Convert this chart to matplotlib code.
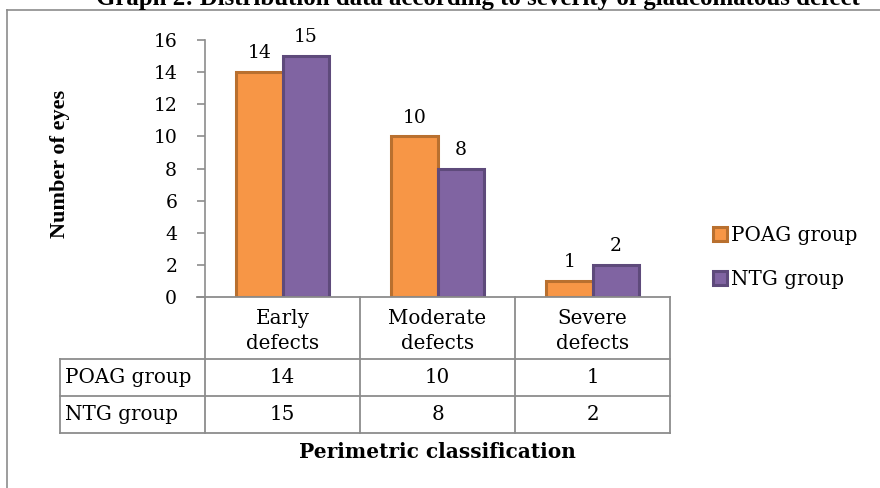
import matplotlib
matplotlib.use("Agg")
import matplotlib.pyplot as plt
from matplotlib.patches import Patch
from matplotlib.lines import Line2D

title = "Graph 2: Distribution data according to severity of glaucomatous defect"
categories = ["Early\ndefects", "Moderate\ndefects", "Severe\ndefects"]
series_names = ["POAG group", "NTG group"]
poag = [14, 10, 1]
ntg = [15, 8, 2]
yticks = [0, 2, 4, 6, 8, 10, 12, 14, 16]
ylabel = "Number of eyes"
xlabel = "Perimetric classification"

W, H = 880, 488
fig = plt.figure(figsize=(W / 100, H / 100), dpi=100)

def fx(px):
    return px / W

def fy(py):
    return 1 - py / H

serif = ["DejaVu Serif"]
times = ["Liberation Serif", "DejaVu Serif"]
grid_col = "#8c8c8c"
fills = ["#F79646", "#8064A2"]
edges = ["#B9702F", "#5E4A7B"]
tfs = 14.3

# outer frame
fig.add_artist(Line2D([fx(7), fx(7)], [fy(10), fy(500)], color=grid_col, lw=1.2))
fig.add_artist(Line2D([fx(7), fx(890)], [fy(10), fy(10)], color=grid_col, lw=1.2))

# title (partially clipped at top like the reference)
fig.text(fx(478), fy(5), title, ha="center", va="baseline", family=times,
         fontsize=17.9, fontweight="bold")

ax_l, ax_r, ax_t, ax_b = 205, 670, 40, 297
ax = fig.add_axes([fx(ax_l), fy(ax_b), fx(ax_r - ax_l), (ax_b - ax_t) / H])
x = list(range(len(categories)))
bw = 0.30
series = [poag, ntg]
for i, vals in enumerate(series):
    offs = (i - 0.5) * bw
    ax.bar([xi + offs for xi in x], vals, width=bw, color=fills[i],
           edgecolor=edges[i], linewidth=2.2, label=series_names[i], zorder=3)
    for xi, v in zip(x, vals):
        ax.annotate(str(v), (xi + offs, v), xytext=(0, 7), textcoords="offset points",
                    ha="center", va="bottom", family=serif, fontsize=13.5)
ax.set_xlim(-0.5, len(categories) - 0.5)
ax.set_ylim(0, 16)
ax.set_yticks(yticks)
ax.set_yticklabels([str(t) for t in yticks], family=serif, fontsize=13.5)
ax.set_xticks([])
for s in ["top", "right", "bottom"]:
    ax.spines[s].set_visible(False)
ax.spines["left"].set_color(grid_col)
ax.spines["left"].set_linewidth(1.2)
ax.tick_params(axis="y", colors=grid_col, length=6, width=1.2, labelcolor="black", pad=14)
ax.patch.set_alpha(0)

fig.text(fx(60), fy(164), ylabel, rotation=90, ha="center", va="center",
         family=times, fontsize=16, fontweight="bold")

# data table below the axes
row_top = 297
hdr_bot = 359
row_h = 37
tab_left = 60
col_w = (ax_r - ax_l) / len(categories)
lw_t = 1.3
def hline(y, x0, x1):
    fig.add_artist(Line2D([fx(x0), fx(x1)], [fy(y), fy(y)], color=grid_col, lw=lw_t))
def vline(xp, y0, y1):
    fig.add_artist(Line2D([fx(xp), fx(xp)], [fy(y0), fy(y1)], color=grid_col, lw=lw_t))

hline(row_top, ax_l - 8, ax_r)
n_rows = len(series)
bottom = hdr_bot + n_rows * row_h
for k in range(len(categories) + 1):
    vline(ax_l + k * col_w, row_top, bottom)
vline(tab_left, hdr_bot, bottom)
for r in range(n_rows + 1):
    hline(hdr_bot + r * row_h, tab_left, ax_r)
for k, c in enumerate(categories):
    fig.text(fx(ax_l + (k + 0.5) * col_w), fy((row_top + hdr_bot) / 2 + 3), c,
             ha="center", va="center", family=serif, fontsize=tfs, linespacing=1.45)
for r, (name, vals) in enumerate(zip(series_names, series)):
    yc = hdr_bot + (r + 0.5) * row_h
    fig.text(fx(tab_left + 5), fy(yc), name, ha="left", va="center", family=serif, fontsize=tfs)
    for k, v in enumerate(vals):
        fig.text(fx(ax_l + (k + 0.5) * col_w), fy(yc), str(v), ha="center", va="center",
                 family=serif, fontsize=tfs)

fig.text(fx(437), fy(452), xlabel, ha="center", va="center", family=serif,
         fontsize=14.5, fontweight="bold")

handles = [Patch(facecolor=fills[i], edgecolor=edges[i], linewidth=2.2, label=series_names[i])
           for i in range(len(series_names))]
fig.legend(handles=handles, loc="upper left", bbox_to_anchor=(fx(713), fy(226)),
           frameon=False, prop={"family": serif, "size": tfs},
           handlelength=0.7, handleheight=0.7, handletextpad=0.2,
           labelspacing=1.25, borderaxespad=0, borderpad=0)

fig.savefig("out.png", dpi=100)
